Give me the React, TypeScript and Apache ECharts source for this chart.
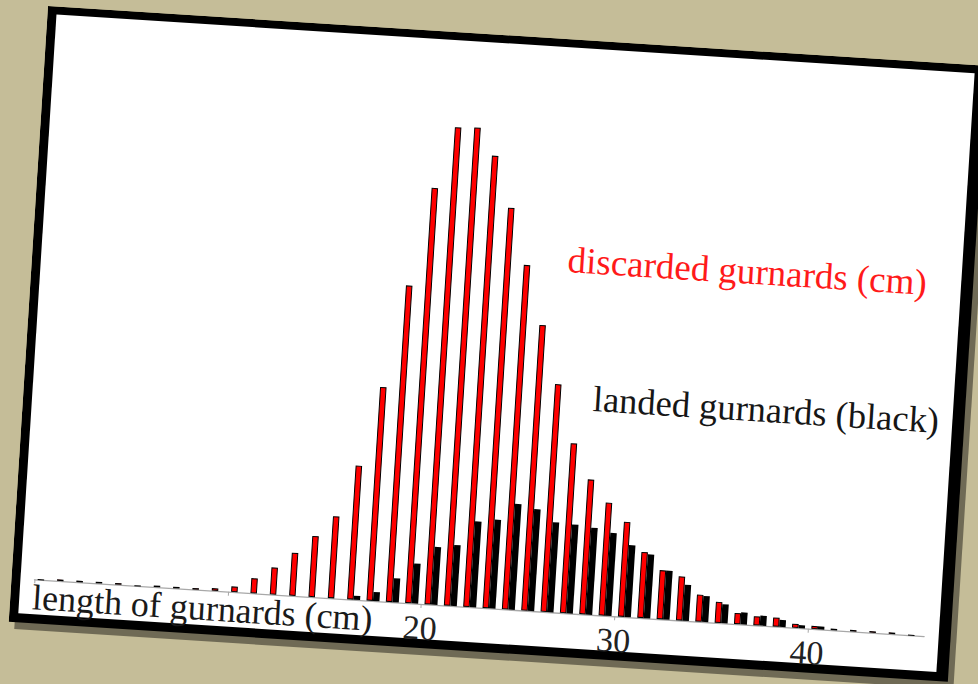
import React, { useEffect, useRef } from "react";
import * as echarts from "echarts";

// length bins (cm, lower edge of each 1 cm class)
const bins = [
  "0", "1", "2", "3", "4", "5", "6", "7", "8", "9",
  "10", "11", "12", "13", "14", "15", "16", "17", "18", "19",
  "20", "21", "22", "23", "24", "25", "26", "27", "28", "29",
  "30", "31", "32", "33", "34", "35", "36", "37", "38", "39",
  "40", "41", "42", "43", "44", "45",
];

// discarded gurnards (red bars)
const discarded = [
  0, 1.5, 1.5, 1.5, 1.5, 0, 1.5, 1.5, 1.5, 2.5,
  5.5, 15, 27, 43, 61, 82, 134, 214, 317, 416,
  478, 479, 452, 401, 345, 286, 228, 170, 135, 113,
  95, 66, 49, 44, 27, 21, 11, 9, 9, 4,
  3, 1.5, 1.5, 1.5, 1.5, 0,
];

// landed gurnards (black bars)
const landed = [
  0, 0, 0, 0, 0, 0, 0, 0, 0, 0,
  0, 0, 0, 0, 0, 0, 4, 9, 24, 40,
  58, 61, 86, 89, 106, 102, 90, 89, 87, 83,
  72, 64, 49, 36, 26, 19, 12, 10, 7, 3,
  3, 0, 0, 0, 0, 0,
];

const xTickLabels = ["20", "30", "40"];

const SERIF = "Liberation Serif";

export default function App() {
  const ref = useRef<HTMLDivElement>(null);

  useEffect(() => {
    if (!ref.current) return;
    const chart = echarts.init(ref.current, null, { renderer: "svg" });
    const W = 941;
    const H = 617;
    chart.setOption({
      animation: false,
      backgroundColor: "transparent",
      textStyle: { fontFamily: SERIF },
      graphic: [
        { type: "rect", z: -3, silent: true, shape: { x: 6, y: 7, width: W, height: H }, style: { fill: "#6f6a55" } },
        { type: "rect", z: -2, silent: true, shape: { x: 0, y: 0, width: W, height: H }, style: { fill: "#000" } },
        { type: "rect", z: -1, silent: true, shape: { x: 9, y: 8, width: W - 9 - 12, height: H - 8 - 9 }, style: { fill: "#fff" } },
        {
          type: "text",
          z: 10,
          x: 535,
          y: 220,
          style: {
            text: "discarded gurnards (cm)",
            fill: "#ff1a1a",
            fontFamily: SERIF,
            fontSize: 37,
            verticalAlign: "middle",
            align: "left",
          },
        },
        {
          type: "text",
          z: 10,
          x: 569,
          y: 357,
          style: {
            text: "landed gurnards (black)",
            fill: "#161616",
            fontFamily: SERIF,
            fontSize: 36.5,
            verticalAlign: "middle",
            align: "left",
          },
        },
      ],
      grid: { left: 23, width: 891.5, top: 73, height: 500, containLabel: false },
      xAxis: [
        {
          type: "category",
          data: bins,
          position: "bottom",
          boundaryGap: true,
          show: false,
        },
        {
          type: "value",
          position: "bottom",
          min: 0,
          max: 46,
          interval: 10,
          name: "length of gurnards (cm)",
          nameLocation: "start",
          nameGap: 1,
          nameTextStyle: {
            fontFamily: SERIF,
            fontSize: 36,
            color: "#1a1a1a",
            align: "left",
            verticalAlign: "top",
          },
          axisLine: { show: true, lineStyle: { color: "#a8a8a8", width: 1.3 } },
          axisTick: { show: true, length: 4, lineStyle: { color: "#a8a8a8", width: 1 } },
          splitLine: { show: false },
          axisLabel: {
            margin: 7,
            fontFamily: SERIF,
            fontSize: 34,
            color: "#222",
            showMaxLabel: false,
            formatter: (v: number) => (xTickLabels.includes(String(v)) ? String(v) : ""),
          },
        },
      ],
      yAxis: { type: "value", min: 0, max: 500, show: false },
      series: [
        {
          name: "discarded",
          type: "bar",
          xAxisIndex: 0,
          data: discarded,
          barWidth: 6.5,
          barGap: "0%",
          itemStyle: { color: "#ff0000", borderColor: "#000", borderWidth: 1 },
        },
        {
          name: "landed",
          type: "bar",
          xAxisIndex: 0,
          data: landed,
          barWidth: 6.5,
          barGap: "0%",
          itemStyle: { color: "#000" },
        },
      ],
    });
    return () => chart.dispose();
  }, []);

  return (
    <div
      style={{
        position: "fixed",
        left: 0,
        top: 0,
        width: 978,
        height: 684,
        background: "#c5bd98",
        overflow: "hidden",
      }}
    >
      <div
        ref={ref}
        style={{
          position: "absolute",
          left: 48,
          top: 6,
          width: 949,
          height: 625,
          transform: "rotate(3.65deg)",
          transformOrigin: "0 0",
        }}
      />
    </div>
  );
}
